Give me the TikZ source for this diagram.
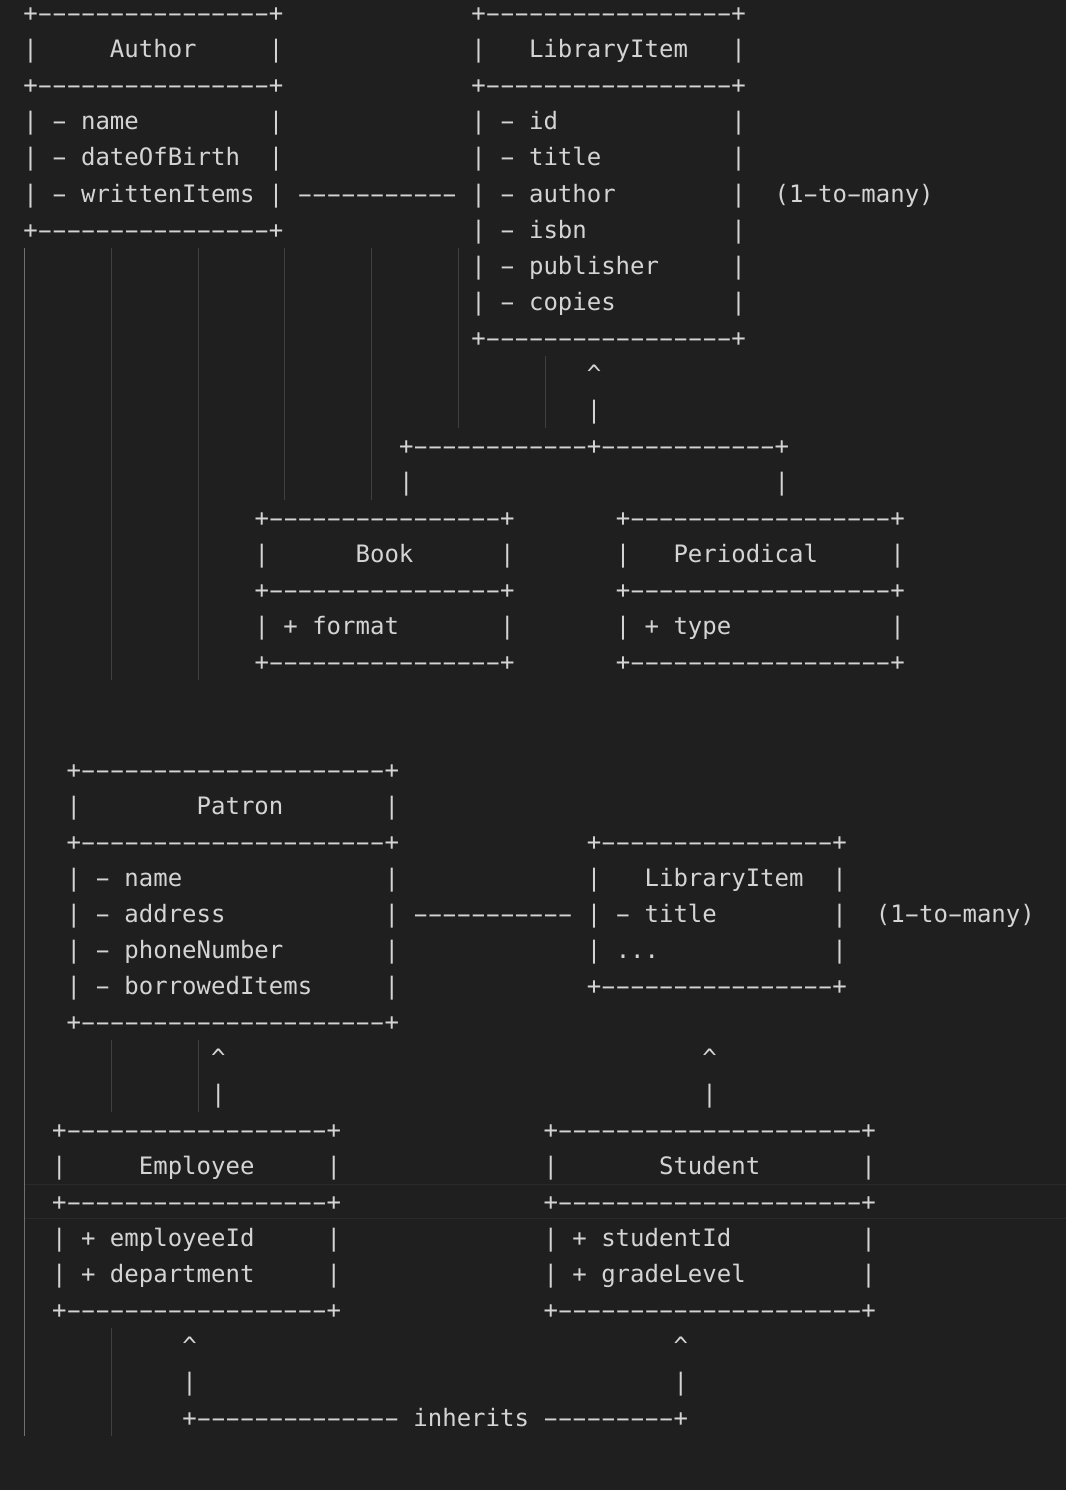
\documentclass[tikz,border=0pt]{standalone}
\usepackage{fontspec}
\usepackage{graphicx}
\setmonofont{DejaVu Sans Mono}
\definecolor{bg}{HTML}{1F1F1F}
\definecolor{fg}{HTML}{D4D4D4}
\definecolor{guide}{HTML}{404040}
\definecolor{guideact}{HTML}{707070}
\definecolor{curline}{HTML}{2A2A2A}
\tikzset{
  txt/.style={anchor=base west, inner sep=0pt, outer sep=0pt, text=fg,
    font=\ttfamily\fontsize{24}{24}\selectfont},
  guideline/.style={draw=guide, line width=1pt},
  guideactive/.style={draw=guideact, line width=1pt},
  curbox/.style={draw=curline, line width=1.2pt}
}
\newcommand\hy{\makebox[\fontcharwd\font`\-][c]{\scalebox{1.85}[1]{-}}}
\newcommand\hyr[1]{\foreach\k in {1,...,#1}{\hy}}
\newcommand\Rw[4]{\node[txt] (#1) at ({23.3+#2*14.45},{22+#3*36}) {#4};}
\newcommand\Gx[1]{24.8+#1*86.7}
\begin{document}
\begin{tikzpicture}[x=1pt,y=-1pt]
\fill[bg] (0,0) rectangle (1066,1490);
\useasboundingbox (0,0) rectangle (1066,1490);
% current line highlight
\coordinate (cl1) at (25,1184.5); \coordinate (cl2) at (1066,1184.5);
\coordinate (cl3) at (25,1218.5); \coordinate (cl4) at (1066,1218.5);
\draw[curbox] (cl1) -- (cl2); \draw[curbox] (cl3) -- (cl4);
% indent guides
\draw[guideactive] ({\Gx{0}},248) -- ({\Gx{0}},1436);
\draw[guideline] ({\Gx{1}},248) -- ({\Gx{1}},680);
\draw[guideline] ({\Gx{1}},1040) -- ({\Gx{1}},1112);
\draw[guideline] ({\Gx{1}},1328) -- ({\Gx{1}},1436);
\draw[guideline] ({\Gx{2}},248) -- ({\Gx{2}},680);
\draw[guideline] ({\Gx{2}},1040) -- ({\Gx{2}},1112);
\draw[guideline] ({\Gx{3}},248) -- ({\Gx{3}},500);
\draw[guideline] ({\Gx{4}},248) -- ({\Gx{4}},500);
\draw[guideline] ({\Gx{5}},248) -- ({\Gx{5}},428);
\draw[guideline] ({\Gx{6}},356) -- ({\Gx{6}},428);
% Author and LibraryItem
\Rw{a0}{0}{0}{+\hyr{16}+}
\Rw{l0}{31}{0}{+\hyr{17}+}
\Rw{a1}{0}{1}{|~~~~~Author~~~~~|}
\Rw{l1}{31}{1}{|~~~LibraryItem~~~|}
\Rw{a2}{0}{2}{+\hyr{16}+}
\Rw{l2}{31}{2}{+\hyr{17}+}
\Rw{a3}{0}{3}{|~\hy~name~~~~~~~~~|}
\Rw{l3}{31}{3}{|~\hy~id~~~~~~~~~~~~|}
\Rw{a4}{0}{4}{|~\hy~dateOfBirth~~|}
\Rw{l4}{31}{4}{|~\hy~title~~~~~~~~~|}
\Rw{a5}{0}{5}{|~\hy~writtenItems~|}
\Rw{d5}{19}{5}{\hyr{11}}
\Rw{l5}{31}{5}{|~\hy~author~~~~~~~~|}
\Rw{m5}{52}{5}{(1\hy{}to\hy{}many)}
\Rw{a6}{0}{6}{+\hyr{16}+}
\Rw{l6}{31}{6}{|~\hy~isbn~~~~~~~~~~|}
\Rw{l7}{31}{7}{|~\hy~publisher~~~~~|}
\Rw{l8}{31}{8}{|~\hy~copies~~~~~~~~|}
\Rw{l9}{31}{9}{+\hyr{17}+}
\Rw{c10}{39}{10}{\textasciicircum}
\Rw{c11}{39}{11}{|}
\Rw{c12}{26}{12}{+\hyr{12}+\hyr{12}+}
\Rw{c13a}{26}{13}{|}
\Rw{c13b}{52}{13}{|}
% Book and Periodical
\Rw{b14}{16}{14}{+\hyr{16}+}
\Rw{p14}{41}{14}{+\hyr{18}+}
\Rw{b15}{16}{15}{|~~~~~~Book~~~~~~|}
\Rw{p15}{41}{15}{|~~~Periodical~~~~~|}
\Rw{b16}{16}{16}{+\hyr{16}+}
\Rw{p16}{41}{16}{+\hyr{18}+}
\Rw{b17}{16}{17}{|~+~format~~~~~~~|}
\Rw{p17}{41}{17}{|~+~type~~~~~~~~~~~|}
\Rw{b18}{16}{18}{+\hyr{16}+}
\Rw{p18}{41}{18}{+\hyr{18}+}
% Patron and LibraryItem
\Rw{t21}{3}{21}{+\hyr{21}+}
\Rw{t22}{3}{22}{|~~~~~~~~Patron~~~~~~~|}
\Rw{t23}{3}{23}{+\hyr{21}+}
\Rw{i23}{39}{23}{+\hyr{16}+}
\Rw{t24}{3}{24}{|~\hy~name~~~~~~~~~~~~~~|}
\Rw{i24}{39}{24}{|~~~LibraryItem~~|}
\Rw{t25}{3}{25}{|~\hy~address~~~~~~~~~~~|}
\Rw{d25}{27}{25}{\hyr{11}}
\Rw{i25}{39}{25}{|~\hy~title~~~~~~~~|}
\Rw{m25}{59}{25}{(1\hy{}to\hy{}many)}
\Rw{t26}{3}{26}{|~\hy~phoneNumber~~~~~~~|}
\Rw{i26}{39}{26}{|~...~~~~~~~~~~~~|}
\Rw{t27}{3}{27}{|~\hy~borrowedItems~~~~~|}
\Rw{i27}{39}{27}{+\hyr{16}+}
\Rw{t28}{3}{28}{+\hyr{21}+}
\Rw{c29a}{13}{29}{\textasciicircum}
\Rw{c29b}{47}{29}{\textasciicircum}
\Rw{c30a}{13}{30}{|}
\Rw{c30b}{47}{30}{|}
% Employee and Student
\Rw{e31}{2}{31}{+\hyr{18}+}
\Rw{s31}{36}{31}{+\hyr{21}+}
\Rw{e32}{2}{32}{|~~~~~Employee~~~~~|}
\Rw{s32}{36}{32}{|~~~~~~~Student~~~~~~~|}
\Rw{e33}{2}{33}{+\hyr{18}+}
\Rw{s33}{36}{33}{+\hyr{21}+}
\Rw{e34}{2}{34}{|~+~employeeId~~~~~|}
\Rw{s34}{36}{34}{|~+~studentId~~~~~~~~~|}
\Rw{e35}{2}{35}{|~+~department~~~~~|}
\Rw{s35}{36}{35}{|~+~gradeLevel~~~~~~~~|}
\Rw{e36}{2}{36}{+\hyr{18}+}
\Rw{s36}{36}{36}{+\hyr{21}+}
\Rw{c37a}{11}{37}{\textasciicircum}
\Rw{c37b}{45}{37}{\textasciicircum}
\Rw{c38a}{11}{38}{|}
\Rw{c38b}{45}{38}{|}
\Rw{c39}{11}{39}{+\hyr{14}~inherits~\hyr{9}+}
\end{tikzpicture}
\end{document}
